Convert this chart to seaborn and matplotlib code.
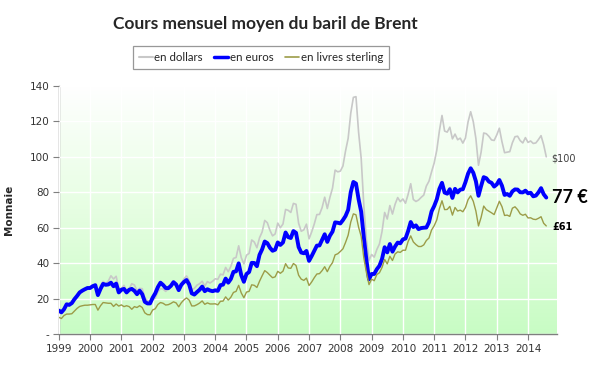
import numpy as np
import pandas as pd
import seaborn as sns
import matplotlib.pyplot as plt
from matplotlib.colors import LinearSegmentedColormap
from matplotlib.lines import Line2D

# monthly averages, Jan 1999 -> Aug 2014
dollars = [
    12.5, 11.5, 13.5, 16.5, 16.0, 17.5, 19.5, 21.0, 23.0, 24.0, 25.0, 25.5,   # 1999
    25.5, 27.8, 27.5, 22.7, 27.6, 29.7, 28.5, 29.9, 32.9, 31.1, 32.6, 25.6,   # 2000
    25.6, 27.5, 24.5, 25.7, 28.4, 27.7, 24.5, 25.8, 25.6, 20.5, 18.8, 18.7,   # 2001
    19.4, 20.3, 23.7, 25.7, 25.4, 24.1, 25.7, 26.6, 28.4, 27.5, 24.2, 28.3,   # 2002
    31.2, 32.8, 30.3, 25.0, 25.8, 27.6, 28.4, 29.8, 27.1, 29.6, 28.8, 29.8,   # 2003
    31.2, 30.9, 33.8, 33.4, 37.6, 35.2, 38.2, 42.7, 43.2, 49.8, 43.1, 39.6,   # 2004
    44.5, 45.5, 53.1, 51.9, 48.7, 54.3, 57.6, 64.1, 62.8, 58.5, 55.4, 56.5,   # 2005
    62.6, 60.0, 62.1, 70.3, 69.8, 68.6, 73.7, 73.2, 62.5, 58.0, 58.8, 62.0,   # 2006
    53.7, 57.6, 62.1, 67.4, 67.5, 71.3, 77.2, 70.8, 77.1, 82.3, 92.5, 91.5,   # 2007
    91.9, 94.8, 103.3, 110.4, 124.6, 133.5, 133.9, 113.9, 99.1, 72.8, 53.2, 41.6,  # 2008
    44.9, 43.4, 47.7, 50.8, 57.9, 68.6, 64.9, 72.5, 67.7, 73.2, 77.0, 74.7,   # 2009
    76.2, 73.8, 78.8, 84.8, 75.9, 74.8, 75.6, 77.1, 78.4, 83.5, 86.2, 91.5,   # 2010
    96.5, 103.7, 114.6, 123.3, 114.5, 113.9, 116.7, 110.1, 112.8, 109.6, 110.5, 107.7,  # 2011
    110.6, 119.7, 125.4, 119.8, 110.3, 95.2, 102.6, 113.4, 113.0, 111.5, 109.5, 109.2,  # 2012
    112.3, 116.1, 108.5, 102.3, 102.6, 102.9, 107.9, 111.3, 111.6, 109.1, 107.8, 110.8,  # 2013
    108.1, 108.9, 107.5, 107.8, 109.7, 111.9, 106.8, 100.0,                     # 2014
]
euros = [
    13.3, 12.3, 14.0, 16.8, 16.5, 17.5, 19.7, 21.5, 23.5, 24.5, 25.3, 26.0,
    26.0, 27.0, 27.6, 22.0, 25.5, 28.3, 27.8, 28.0, 29.0, 27.0, 28.5, 23.5,
    25.0, 25.5, 23.5, 25.0, 25.5, 24.4, 22.5, 24.5, 22.5, 18.2, 17.3, 17.3,
    20.5, 23.0, 26.5, 29.0, 27.7, 26.0, 25.9, 27.2, 29.3, 28.0, 24.8, 27.8,
    29.4, 30.5, 28.0, 23.0, 22.3, 23.7, 25.0, 26.8, 24.2, 25.3, 24.6, 24.2,
    24.7, 24.4, 27.6, 27.9, 31.3, 29.0, 31.1, 35.1, 35.4, 39.9, 33.2, 29.5,
    33.9, 35.0, 40.2, 40.1, 38.3, 44.7, 47.8, 52.2, 51.3, 48.7, 47.0, 47.6,
    51.7, 50.3, 51.7, 57.3, 54.7, 54.2, 58.1, 57.1, 49.1, 46.0, 45.6, 46.9,
    41.3, 44.0, 46.9, 49.9, 50.0, 53.1, 56.3, 52.0, 55.5, 57.8, 63.0, 62.8,
    62.4, 64.3, 66.6, 70.1, 80.1, 85.8, 84.9, 76.1, 69.0, 54.7, 41.8, 30.9,
    33.9, 33.9, 36.6, 38.5, 42.4, 49.0, 46.1, 50.8, 46.5, 49.4, 51.6, 51.2,
    53.4, 53.9, 58.1, 63.2, 60.4, 61.3, 59.2, 59.8, 60.0, 60.1, 63.1, 69.2,
    72.2, 76.0, 81.9, 85.3, 79.8, 79.2, 81.7, 76.8, 81.9, 79.9, 81.5, 81.7,
    85.7, 90.5, 93.5, 91.0, 86.2, 78.0, 83.5, 88.5, 87.9, 86.0, 85.3, 83.2,
    84.4, 86.9, 83.7, 78.5, 79.0, 78.0, 80.5, 81.6, 81.5, 80.0, 79.9, 80.9,
    79.4, 79.7, 77.7, 78.1, 79.9, 82.3, 78.9, 77.0,
]
livres = [
    9.5, 8.8, 10.5, 11.3, 11.3, 11.5, 13.0, 14.5, 15.6, 16.0, 16.3, 16.3,
    16.5, 16.7, 16.7, 13.5, 16.0, 17.8, 17.6, 17.4, 17.4, 15.6, 17.0, 15.8,
    16.5, 15.5, 16.0, 15.5, 14.0, 15.5, 15.0, 16.0, 15.0, 12.0, 11.0, 10.9,
    13.6, 14.3, 16.7, 17.8, 17.4, 16.4, 16.6, 17.3, 18.2, 17.6, 15.4, 17.7,
    19.3, 20.4, 19.2, 15.9, 15.9, 16.6, 17.5, 18.7, 16.8, 17.6, 17.0, 17.0,
    17.1, 16.5, 18.5, 18.6, 21.0, 19.2, 20.8, 23.5, 24.1, 27.5, 23.2, 20.5,
    23.7, 24.1, 27.8, 27.5, 26.3, 29.8, 32.9, 35.8, 34.7, 33.2, 31.8, 32.3,
    35.4, 34.3, 35.5, 39.7, 37.3, 37.1, 39.8, 38.7, 33.2, 31.0, 30.3, 31.6,
    27.4, 29.4, 31.8, 33.9, 34.1, 35.8, 38.0, 35.2, 38.2, 40.3, 44.7, 45.3,
    46.6, 48.1, 51.7, 55.8, 63.2, 67.8, 67.3, 60.3, 55.1, 43.1, 34.8, 27.9,
    31.0, 30.1, 33.6, 34.6, 37.6, 42.1, 39.6, 43.9, 41.5, 45.2, 46.4, 46.1,
    47.3, 47.3, 52.2, 55.4, 52.0, 50.5, 49.4, 49.4, 50.3, 52.8, 54.2, 58.7,
    61.1, 64.4, 70.7, 75.2, 70.2, 70.3, 72.0, 67.1, 71.4, 69.4, 69.9, 69.0,
    71.4, 75.8, 78.0, 74.9, 69.4, 61.0, 65.8, 72.2, 70.2, 69.3, 68.4, 67.4,
    71.1, 74.9, 71.9, 66.9, 67.1, 66.4, 71.0, 71.8, 70.2, 67.8, 67.0, 67.6,
    65.5, 65.6, 64.8, 64.6, 65.3, 66.2, 62.5, 61.0,
]
years = list(range(1999, 2015))

months = 1999 + np.arange(len(dollars)) / 12
df = pd.DataFrame({"mois": months, "dollars": dollars, "euros": euros, "livres": livres})

sns.set_style("white")
plt.rcParams['font.family'] = ['DejaVu Sans']

fig = plt.figure(figsize=(6, 3.7), dpi=100)
ax = fig.add_axes([0.098, 0.097, 0.83, 0.671])

x0, x1 = 1999, 2014.92
# green gradient background
grad = np.linspace(0, 1, 256).reshape(-1, 1)
cmap = LinearSegmentedColormap.from_list("vert", ["#c8fcc4", "#e6fee2", "#ffffff"])
ax.imshow(grad, extent=[x0, x1, 0, 140], origin="lower", aspect="auto", cmap=cmap, zorder=0)

sns.lineplot(data=df, x="mois", y="dollars", ax=ax, color="#c8c8c8", linewidth=1.2, zorder=3)
sns.lineplot(data=df, x="mois", y="euros", ax=ax, color="#0000ff", linewidth=2.8, zorder=4)
sns.lineplot(data=df, x="mois", y="livres", ax=ax, color="#9c9c48", linewidth=1.0, zorder=5)

ax.set_xlim(x0, x1)
ax.set_ylim(0, 140)
ax.set_xticks(years)
ax.set_xticklabels([str(y) for y in years], fontsize=7.5, color="#333333")
ax.set_yticks(range(0, 141, 20))
ax.set_yticklabels(["-"] + [str(v) for v in range(20, 141, 20)], fontsize=7.5, color="#333333")
ax.grid(True, color="white", linewidth=1.0, zorder=1)
ax.set_axisbelow(False)
for g in ax.get_xgridlines() + ax.get_ygridlines():
    g.set_zorder(1)
ax.tick_params(axis="both", length=4, width=0.8, color="#7f7f7f", direction="out", pad=3)
ax.tick_params(axis="y", left=True)
ax.tick_params(axis="x", bottom=True)
for s in ["top", "right"]:
    ax.spines[s].set_visible(False)
for s in ["left", "bottom"]:
    ax.spines[s].set_color("#7f7f7f")
    ax.spines[s].set_linewidth(1.0)
ax.set_xlabel("")
ax.set_ylabel("Monnaie", fontsize=7.5, fontweight="bold", labelpad=11)

ax.text(2014.73, 99, "$100", fontsize=7, color="#404040", va="center", ha="left", clip_on=False)
ax.text(2014.78, 77, "77 €", fontsize=13, fontweight="bold", color="black", va="center", ha="left",
        family="Lato", clip_on=False)
ax.text(2014.78, 60.5, "£61", fontsize=7, fontweight="bold", color="black", va="center", ha="left",
        clip_on=False)

fig.text(0.442, 0.935, "Cours mensuel moyen du baril de Brent", ha="center", va="center",
         fontsize=12.5, fontweight="bold", family="Lato")

handles = [Line2D([], [], color="#c8c8c8", linewidth=1.5),
           Line2D([], [], color="#0000ff", linewidth=2.5),
           Line2D([], [], color="#9c9c48", linewidth=1.2)]
leg = fig.legend(handles, ["en dollars", "en euros", "en livres sterling"], loc="center",
                 bbox_to_anchor=(0.435, 0.845), ncol=3, frameon=True, fancybox=False,
                 edgecolor="#7f7f7f", handlelength=1.2, handletextpad=0.15, columnspacing=1.0,
                 borderpad=0.5, prop={"family": "Lato", "size": 8.3})
leg.get_frame().set_linewidth(0.9)

fig.savefig("out.png", dpi=100)
